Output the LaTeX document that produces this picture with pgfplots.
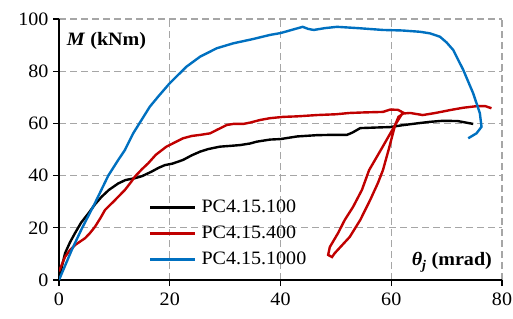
\documentclass[border=0pt]{standalone}
\usepackage{fontspec}
\setmainfont{Liberation Serif}[FakeStretch=1.06]
\usepackage{pgfplots}
\pgfplotsset{compat=1.18}
\definecolor{cblue}{RGB}{0,112,192}
\definecolor{cred}{RGB}{192,0,0}
\definecolor{cgrid}{RGB}{166,166,166}
\begin{document}
\begin{tikzpicture}
\begin{axis}[name=ax, scale only axis, width=443bp, height=261bp,
 xmin=0,xmax=80,ymin=0,ymax=100,
 xtick={0,20,...,80}, ytick={0,20,...,100},
 axis x line=bottom, axis y line=left,
 axis line style={-, line width=1.2bp, black},
 tick align=outside, major tick length=6bp, tick style={line width=1.2bp, black},
 grid=major, major grid style={dash pattern=on 7bp off 4bp, line width=1.3bp, cgrid},
 tick label style={font=\fontsize{19}{22}\selectfont},
 xticklabel style={yshift=-3bp},
 yticklabel style={xshift=-1bp},
 /pgf/number format/assume math mode=true,
 legend style={at={(axis cs:16.2,31.4)}, anchor=north west, draw=none, fill=none,
   font=\fontsize{19}{22}\selectfont, row sep=7bp, inner sep=0pt,
   nodes={inner sep=1bp, text height=13bp, text depth=4bp}},
 legend cell align=left,
 legend image code/.code={\draw[#1, line width=2.8bp] (0bp,0bp) -- (45bp,0bp); \path (49bp,0bp);},
]
\addplot[black, line width=2.4bp] coordinates {
(0,0) (0.5,5) (1.1,10.3) (2,14.5) (2.9,18) (4,22) (5.3,25.5) (6.5,29) (7.7,31.9) (9,34.5) (10.7,37) (12,38.3) (13.7,39) (15,39.8) (16.7,41.5) (18,43) (19.1,44) (20.5,44.6) (22.4,46) (24,47.8) (25.5,49.2) (27,50.2) (29.1,51.1) (31,51.4) (32.7,51.7) (34.5,52.3) (35.7,53) (38.1,53.8) (40,54) (43,55) (46.6,55.5) (49,55.6) (52,55.6) (53,56.5) (54.4,58.2) (57,58.4) (59.8,58.6) (62,59.3) (64.6,60) (67,60.6) (69.3,61) (72,60.9) (74.8,59.8)
};
\addlegendentry{PC4.15.100}
\addplot[cred, line width=2.4bp] coordinates {
(0,3.3) (1.1,8.9) (2,11.5) (2.9,13.4) (4,15) (4.7,16) (5.6,18) (6.5,20.4) (7.5,23.8) (8.3,26.8) (10.1,30.6) (11.9,34.5) (13,37.5) (13.7,39.6) (15,42.5) (16.1,44.7) (17.5,48) (19.4,51.1) (21,52.8) (22.4,54.3) (24,55.2) (25.5,55.6) (27.3,56.2) (28.5,57.5) (30.3,59.4) (31.5,59.8) (33.3,59.8) (34.5,60.3) (36.3,61.3) (38.1,62) (40.5,62.5) (43,62.7) (46.6,63.2) (50,63.5) (52.5,64) (55,64.2) (58.5,64.4) (59.8,65.3) (61.2,65.2) (62.1,64.2) (61.4,61.8) (60.7,59.4) (58.3,50.5) (56,42.1) (54.7,34.5) (53.1,28) (51.6,23) (50.4,18) (48.9,12.6) (48.6,9.6) (49.3,8.8) (49.8,10.3) (52.5,16.5) (54.4,23) (56.2,30.7) (57.6,37.2) (58.5,42.1) (59.6,50.5) (60.7,59.4) (61.3,62.5) (62.2,63.8) (63.4,64) (65.7,63.2) (68,64) (70.6,65.1) (73,66) (75.4,66.6) (77,66.6) (78.1,65.8)
};
\addlegendentry{PC4.15.400}
\addplot[cblue, line width=2.4bp] coordinates {
(0,0) (1,5) (2.3,11.5) (4.1,19.6) (6.5,29.5) (8.9,40) (10.7,46) (11.9,49.8) (13.4,56.2) (16.4,66.4) (18,70.5) (20,75.4) (23,81.7) (25.5,85.6) (28.5,88.8) (31.5,90.7) (35,92.3) (38.1,93.9) (40,94.6) (42,95.8) (44,97) (45,96.2) (46,95.8) (48,96.5) (50.2,97) (54,96.5) (58.5,95.8) (62,95.6) (65.2,95.1) (67,94.5) (68.8,93.2) (70,91) (71.2,88.1) (73,80.5) (74.8,71.5) (76,63.9) (76.3,58.7) (75.4,56.2) (73.9,54.3)
};
\addlegendentry{PC4.15.1000}
\node[anchor=west, font=\fontsize{19}{22}\selectfont\bfseries] at (axis cs:0.8,91.5) {\textit{M} (kNm)};
\node[anchor=east, font=\fontsize{19}{22}\selectfont\bfseries] at (axis cs:78.8,6.8) {\textit{θ}\textsubscript{\textit{j}} (mrad)};
\end{axis}
\pgfresetboundingbox
\path[use as bounding box] ([xshift=-59bp,yshift=-38bp]ax.south west) rectangle ([xshift=11bp,yshift=19bp]ax.north east);
\end{tikzpicture}
\end{document}
